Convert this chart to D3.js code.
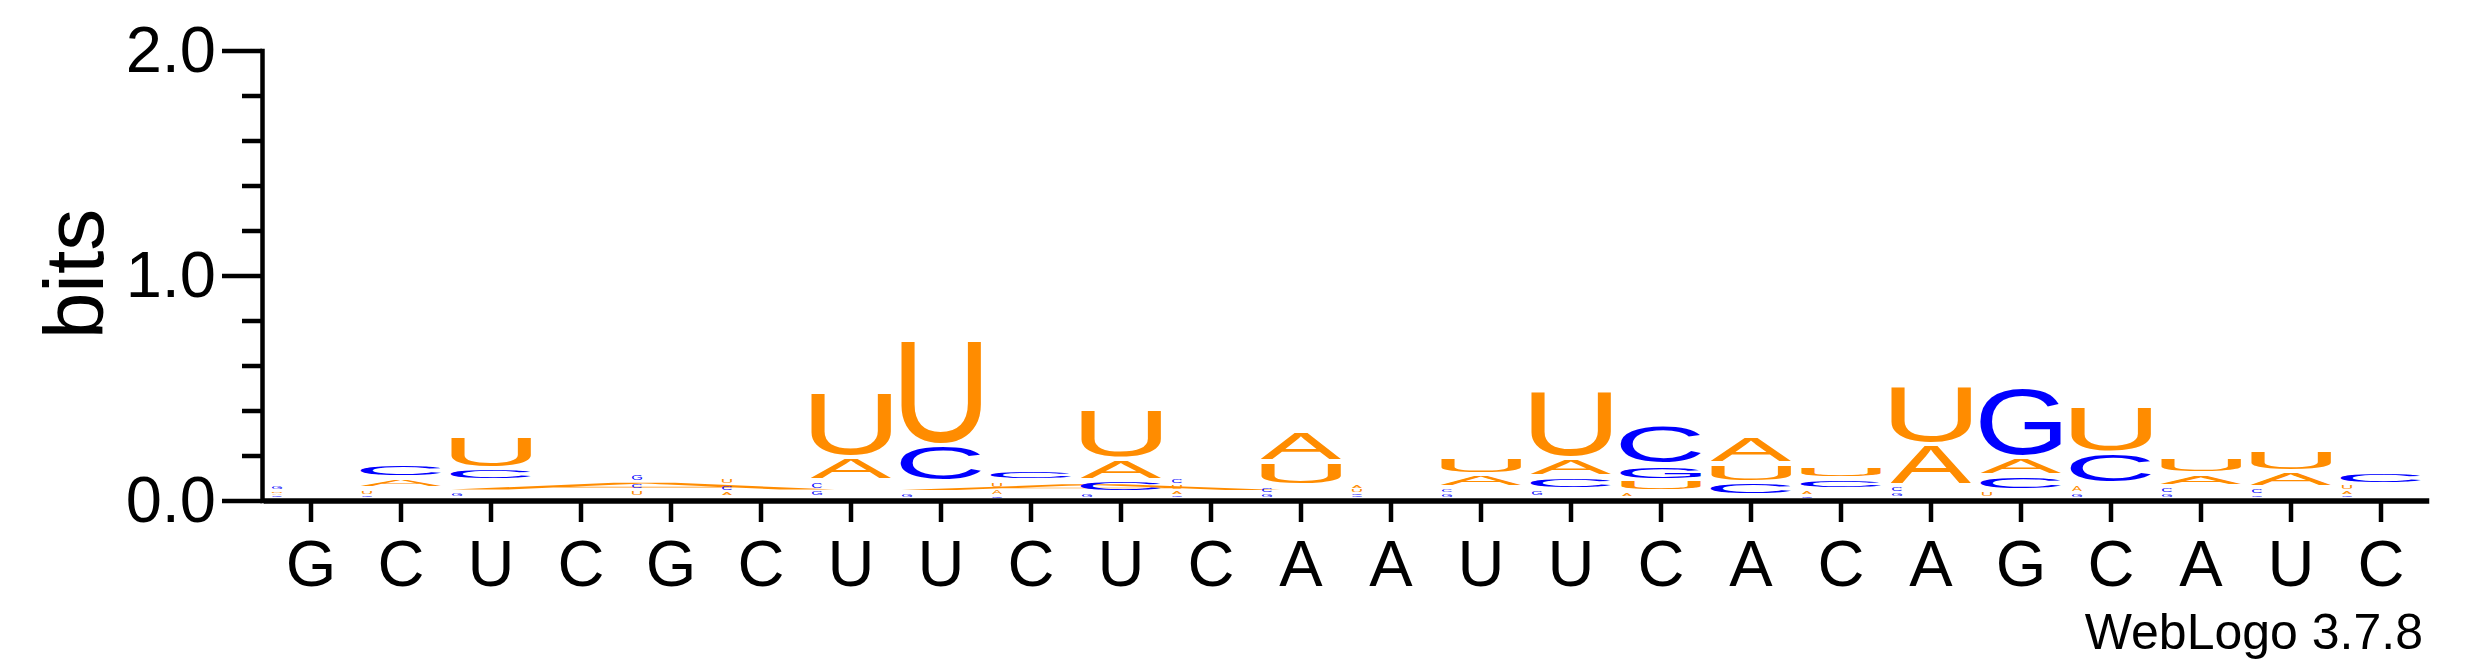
<!DOCTYPE html>
<html><head><meta charset="utf-8">
<script src="https://cdn.jsdelivr.net/npm/d3@7"></script>
<style>html,body{margin:0;padding:0;background:#fff;} svg{display:block;}</style>
</head><body>
<svg id="chart" width="2475" height="667"></svg>
<script>
// ---- data (bits per letter per position) ----
const xLabels = ["G","C","U","C","G","C","U","U","C","U","C","A","A","U","U","C","A","C","A","G","C","A","U","C"];
const bitsA = [0.011,0.050,0.050,0.004,0.005,0.022,0.106,0.045,0.029,0.092,0.020,0.133,0.018,0.061,0.081,0.020,0.119,0.022,0.184,0.081,0.039,0.055,0.070,0.020];
const bitsC = [0.010,0.059,0.054,0.005,0.035,0.027,0.039,0.163,0.047,0.054,0.030,0.034,0.012,0.020,0.057,0.175,0.061,0.050,0.028,0.066,0.134,0.027,0.027,0.057];
const bitsG = [0.016,0.012,0.020,0.003,0.037,0.004,0.030,0.018,0.009,0.019,0.012,0.015,0.010,0.018,0.030,0.067,0.002,0.008,0.020,0.314,0.018,0.018,0.013,0.010];
const bitsU = [0.012,0.022,0.148,0.004,0.026,0.030,0.289,0.471,0.032,0.219,0.025,0.105,0.015,0.080,0.304,0.052,0.084,0.052,0.262,0.026,0.210,0.073,0.092,0.025];
const yMajorTicks = [0, 1, 2];
const yMinorTicks = [0.2,0.4,0.6,0.8,1.2,1.4,1.6,1.8];
// glyphs that the reference renders stretched over several columns
const wideGlyphs = [{pos: 2, letter: "A", span: 4.4}, {pos: 7, letter: "A", span: 4.35}];
const colors = {A: "#FF8C00", U: "#FF8C00", C: "#0000FF", G: "#0000FF"};

const W = 2475, H = 667;
const FONT = "'Liberation Sans', Arial, Helvetica, sans-serif";
const svg = d3.select("#chart");
svg.append("rect").attr("width", W).attr("height", H).attr("fill", "#fff");

const x = d3.scaleBand().domain(d3.range(xLabels.length)).range([266, 2426]).padding(0);
const y = d3.scaleLinear().domain([0, 2]).range([498.5, 48.5]);

// ink metrics of glyphs
const cv = document.createElement("canvas");
const ctx = cv.getContext("2d");
ctx.font = "100px " + FONT;
const inkM = {};
["A","C","G","U"].forEach(ch => {
  const m = ctx.measureText(ch);
  inkM[ch] = {l: m.actualBoundingBoxLeft, r: m.actualBoundingBoxRight, a: m.actualBoundingBoxAscent, d: m.actualBoundingBoxDescent};
});

const series = {A: bitsA, C: bitsC, G: bitsG, U: bitsU};
const glyphs = [];
xLabels.forEach((lab, i) => {
  const items = ["A","C","G","U"].map(l => ({l, v: series[l][i]})).sort((a, b) => a.v - b.v);
  let acc = 0;
  items.forEach(it => {
    const bottom = y(acc), top = y(acc + it.v);
    acc += it.v;
    glyphs.push({pos: i, letter: it.l, top, bottom});
  });
});

const gl = svg.append("g");
gl.selectAll("text").data(glyphs.filter(d => d.bottom - d.top >= 1.5)).join("text")
  .text(d => d.letter)
  .attr("font-family", FONT).attr("font-size", 100)
  .attr("fill", d => colors[d.letter])
  .attr("transform", d => {
    const boxH = d.bottom - d.top;
    const gap = Math.min(4.5, boxH * 0.45);
    const inkH = Math.max(1, boxH - gap);
    const left = x(d.pos), bw = x.bandwidth();
    const wide = wideGlyphs.find(w => w.pos === d.pos && w.letter === d.letter);
    let x0, w;
    if (wide) { x0 = left + 4.5; w = wide.span * bw - 9; }
    else if (boxH < 9) { x0 = left + 6; w = 10; }
    else { x0 = left + 4.5; w = bw - 9; }
    const m = inkM[d.letter];
    const sx = w / (m.l + m.r), sy = inkH / (m.a + m.d);
    return `translate(${x0},${d.top}) scale(${sx},${sy}) translate(${m.l},${m.a})`;
  });

// y axis
const yAxisG = svg.append("g").attr("transform", "translate(262,2)")
  .call(d3.axisLeft(y).tickValues(yMajorTicks).tickFormat(d3.format(".1f")).tickSize(40).tickSizeOuter(0).tickPadding(6));
yAxisG.select(".domain").attr("stroke-width", 4.5).attr("stroke-linecap", "square");
yAxisG.selectAll(".tick line").attr("stroke-width", 4.5);
yAxisG.selectAll(".tick text").attr("font-family", FONT).attr("font-size", 65).attr("fill", "#000");

const yMinorG = svg.append("g").attr("transform", "translate(262,2)")
  .call(d3.axisLeft(y).tickValues(yMinorTicks).tickFormat("").tickSize(20).tickSizeOuter(0));
yMinorG.select(".domain").remove();
yMinorG.selectAll(".tick line").attr("stroke-width", 4.5);

// x axis
const xAxisG = svg.append("g").attr("transform", "translate(0,500.5)")
  .call(d3.axisBottom(x).tickFormat(i => xLabels[i]).tickSize(21.5).tickSizeOuter(0).tickPadding(18));
xAxisG.select(".domain").attr("stroke-width", 5.5).attr("stroke-linecap", "square");
xAxisG.selectAll(".tick line").attr("stroke-width", 4.5);
xAxisG.selectAll(".tick text").attr("font-family", FONT).attr("font-size", 65).attr("fill", "#000");

svg.append("text").text("bits")
  .attr("transform", "translate(103,274) rotate(-90)")
  .attr("text-anchor", "middle").attr("font-family", FONT).attr("font-size", 84).attr("fill", "#000");

svg.append("text").text("WebLogo 3.7.8")
  .attr("x", 2423).attr("y", 649).attr("text-anchor", "end")
  .attr("font-family", FONT).attr("font-size", 50).attr("fill", "#000");
</script>
</body></html>
